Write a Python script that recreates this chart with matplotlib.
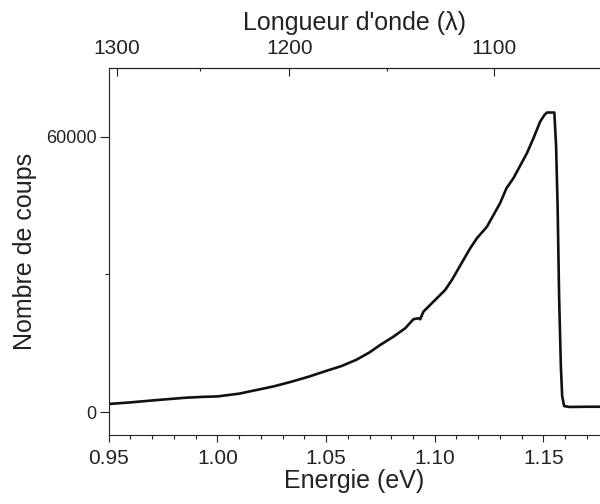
import numpy as np
import matplotlib
matplotlib.use("Agg")
import matplotlib.pyplot as plt
from matplotlib.ticker import FixedLocator, MultipleLocator

plt.rcParams['font.family'] = ['Liberation Sans', 'DejaVu Sans']

# spectrum: energy (eV) vs counts
energie = [0.950, 0.960, 0.972, 0.985, 0.993, 1.000, 1.010, 1.018, 1.026, 1.034,
           1.042, 1.049, 1.057, 1.064, 1.070, 1.0749, 1.081, 1.0864, 1.0902, 1.0925,
           1.0933, 1.0948, 1.0994, 1.1048, 1.1079, 1.1132, 1.1163, 1.1194, 1.124, 1.130,
           1.133, 1.1362, 1.1424, 1.1454, 1.1485, 1.1505, 1.1516, 1.1550, 1.1558, 1.1565,
           1.1572, 1.1580, 1.1586, 1.1595, 1.1620, 1.1700, 1.1770]
coups = [1750, 2100, 2600, 3100, 3300, 3400, 4000, 4800, 5600, 6600,
         7700, 8800, 10000, 11400, 13000, 14620, 16430, 18260, 20230, 20450,
         20230, 21890, 24070, 26620, 28800, 33170, 35700, 37900, 40400, 45500,
         48800, 51000, 56450, 59700, 63350, 64800, 65300, 65300, 58000, 45000,
         25000, 10000, 3500, 1300, 1100, 1150, 1150]

x_ticks = [0.95, 1.00, 1.05, 1.10, 1.15]
y_ticks = [0, 60000]
lambda_ticks = [1300, 1200, 1100]
lambda_minor = [1250, 1150]

fig = plt.figure(figsize=(6, 5.04), dpi=100)
ax = fig.add_axes([0.181, 0.137, 0.819, 0.728])

ax.plot(energie, coups, color='#111111', lw=1.9)

ax.set_xlim(0.95, 1.176)
ax.set_ylim(-5000, 75000)
ax.set_xticks(x_ticks)
ax.set_xticklabels(['%.2f' % v for v in x_ticks])
ax.xaxis.set_minor_locator(MultipleLocator(0.01))
ax.set_yticks(y_ticks)
ax.yaxis.set_minor_locator(FixedLocator([30000]))

ax.spines['right'].set_visible(False)
for s in ax.spines.values():
    s.set_linewidth(0.8)
    s.set_color('#222222')

ax.tick_params(axis='x', which='major', direction='out', length=5, width=0.8,
               labelsize=15, pad=5, colors='#222222', top=False)
ax.tick_params(axis='x', which='minor', direction='out', length=2.7, width=0.8,
               colors='#222222', top=False)
ax.tick_params(axis='y', which='major', direction='out', length=6.5, width=0.8,
               labelsize=13, pad=2, colors='#222222', right=False)
ax.tick_params(axis='y', which='minor', direction='out', length=3, width=0.8,
               colors='#222222', right=False)

ax.set_xlabel('Energie (eV)', fontsize=18, color='#222222', labelpad=1)
ax.set_ylabel('Nombre de coups', fontsize=18, color='#222222', labelpad=6.5)

# top axis in wavelength (nm)
top = ax.secondary_xaxis('top', functions=(lambda e: 1239.8 / np.asarray(e, float),
                                           lambda l: 1239.8 / np.asarray(l, float)))
top.set_xticks(lambda_ticks)
top.xaxis.set_minor_locator(FixedLocator(lambda_minor))
top.tick_params(which='major', direction='in', length=5.5, width=0.8,
                labelsize=15, pad=7, colors='#222222')
top.tick_params(which='minor', direction='in', length=2.4, width=0.8, colors='#222222')
top.spines['top'].set_linewidth(0.8)
top.set_xlabel("Longueur d'onde (λ)", fontsize=18, color='#222222', labelpad=7)

plt.savefig('out.png', dpi=100)
